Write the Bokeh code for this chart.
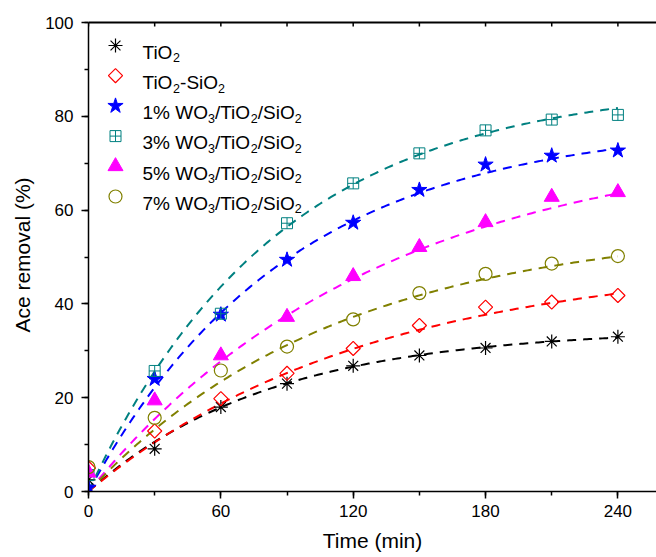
import numpy as np
from bokeh.plotting import figure
from bokeh.models import Range1d, SingleIntervalTicker, ColumnDataSource
from bokeh.core.properties import value
from bokeh.embed import file_html
from bokeh.resources import INLINE

# ---------------- data ----------------
time_min = [0, 30, 60, 90, 120, 150, 180, 210, 240]
tio2 = [2.5, 9.1, 18.0, 23.0, 26.8, 29.0, 30.6, 32.0, 33.0]
tio2_sio2 = [5.0, 12.9, 19.8, 25.2, 30.5, 35.4, 39.3, 40.4, 41.8]
wo3_1 = [0.8, 24.0, 37.7, 49.4, 57.3, 64.3, 69.7, 71.6, 72.7]
wo3_3 = [3.5, 25.7, 37.9, 57.2, 65.7, 72.1, 77.0, 79.3, 80.3]
wo3_5 = [4.0, 19.4, 29.0, 37.2, 45.9, 52.1, 57.4, 62.8, 63.8]
wo3_7 = [5.2, 15.7, 25.8, 30.9, 36.7, 42.3, 46.4, 48.6, 50.2]

# first-order kinetic fit curves y = A (1 - exp(-k t)), parameters
fit_A = [34.7, 49.7, 78.7, 87.2, 75.8, 57.0]
fit_k = [0.01214, 0.00789, 0.01103, 0.01158, 0.00760, 0.00882]
fit_t_end = 240

# legend labels as (text, is_subscript) pieces
legend_labels = [
    [("TiO", 0), ("2", 1)],
    [("TiO", 0), ("2", 1), ("-SiO", 0), ("2", 1)],
    [("1% WO", 0), ("3", 1), ("/TiO", 0), ("2", 1), ("/SiO", 0), ("2", 1)],
    [("3% WO", 0), ("3", 1), ("/TiO", 0), ("2", 1), ("/SiO", 0), ("2", 1)],
    [("5% WO", 0), ("3", 1), ("/TiO", 0), ("2", 1), ("/SiO", 0), ("2", 1)],
    [("7% WO", 0), ("3", 1), ("/TiO", 0), ("2", 1), ("/SiO", 0), ("2", 1)],
]
x_title = "Time (min)"
y_title = "Ace removal (%)"
y_axis_top = 100.0
top_tick_interval = 30

series = [tio2, tio2_sio2, wo3_1, wo3_3, wo3_5, wo3_7]
colors = ["#000000", "#FF0000", "#0000FF", "#008080", "#FF00FF", "#808000"]
styles = [
    dict(marker="asterisk", size=14, fill_color=None, line_width=1.2, angle=0.0),
    dict(marker="square", size=10, fill_color=None, line_width=1.2, angle=np.pi / 4),
    dict(marker="star", size=16, fill_color="fill", line_width=1.0, angle=0.0),
    dict(marker="square_cross", size=11, fill_color=None, line_width=1.0, angle=0.0),
    dict(marker="triangle", size=15, fill_color="fill", line_width=1.0, angle=0.0),
    dict(marker="circle", size=13, fill_color=None, line_width=1.2, angle=0.0),
]

# ---------------- layout ----------------
W, H = 656, 557
HEADROOM = 4                                    # px of frame above the 100 % line
ML, MR, MT, MB = 88, 0, 22 - HEADROOM, 66
FRAME_W = W - ML - MR
FRAME_H = H - MT - MB
X_END = 257.5                                   # visible end of the (cropped) time axis
Y_END = y_axis_top / (1 - HEADROOM / FRAME_H)
PX_X = FRAME_W / X_END
PX_Y = FRAME_H / Y_END
FONT = "Liberation Sans"

p = figure(width=W, height=H, x_range=Range1d(0, X_END), y_range=Range1d(0, Y_END),
           output_backend="svg", toolbar_location=None,
           min_border_left=ML, min_border_right=MR, min_border_top=MT, min_border_bottom=MB)
p.xgrid.visible = False
p.ygrid.visible = False
p.outline_line_color = None
p.background_fill_color = "white"
p.border_fill_color = "white"

def style_axis(ax):
    ax.axis_line_width = 1.5
    ax.major_tick_line_width = 1.5
    ax.minor_tick_line_width = 1.5
    ax.axis_line_color = "black"
    ax.major_tick_line_color = "black"
    ax.minor_tick_line_color = "black"
    ax.major_label_text_font = FONT
    ax.major_label_text_font_size = "17px"
    ax.major_label_text_color = "black"
    ax.axis_label_text_font = FONT
    ax.axis_label_text_font_size = "21px"
    ax.axis_label_text_font_style = "normal"
    ax.axis_label_text_color = "black"

xa = p.xaxis[0]
xa.ticker = SingleIntervalTicker(interval=60, num_minor_ticks=2)
style_axis(xa)
xa.major_tick_out = 7
xa.major_tick_in = 0
xa.minor_tick_out = 4
xa.minor_tick_in = 0
xa.major_label_standoff = 6
xa.axis_label = x_title
xa.axis_label_standoff = 9

ya = p.yaxis[0]
ya.ticker = SingleIntervalTicker(interval=20, num_minor_ticks=2)
style_axis(ya)
ya.bounds = (0, y_axis_top)
ya.major_tick_out = 7
ya.major_tick_in = 0
ya.minor_tick_out = 4
ya.minor_tick_in = 0
ya.major_label_standoff = 8
ya.axis_label = y_title
ya.axis_label_standoff = 8

# top line of the box at 100 % with small inward ticks
p.line(x=[0, X_END], y=[y_axis_top, y_axis_top], line_color="black", line_width=2)
top_ticks = list(range(0, int(X_END) + 1, top_tick_interval))
p.segment(x0=top_ticks, x1=top_ticks, y0=[y_axis_top] * len(top_ticks),
          y1=[y_axis_top - 4 / PX_Y] * len(top_ticks), line_color="black", line_width=1.5)

# ---------------- fit curves ----------------
t_fit = np.linspace(0, fit_t_end, 241)
for A, k, c in zip(fit_A, fit_k, colors):
    p.line(t_fit, A * (1 - np.exp(-k * t_fit)), line_color=c, line_width=2, line_dash="9 7")

# ---------------- markers ----------------
def draw_markers(xs, ys, c, st):
    fill = c if st["fill_color"] == "fill" else None
    p.scatter(xs, ys, marker=st["marker"], size=st["size"], line_color=c,
              fill_color=fill, line_width=st["line_width"], angle=st["angle"])

for ys, c, st in zip(series, colors, styles):
    draw_markers(time_min, ys, c, st)

# ---------------- legend (manual, with subscripts) ----------------
ARIAL_W = {"T": 611, "i": 222, "O": 778, "-": 333, "S": 667, "W": 944, "/": 278,
           "%": 889, " ": 278, "1": 556, "2": 556, "3": 556, "5": 556, "7": 556}
MAIN_FS = 19.0
SUB_FS = 12.5
LEG_MARK_PX = 27      # marker centre from frame left
LEG_TEXT_PX = 54      # text start from frame left
LEG_ROW0_PX = 23      # first row centre below the 100 % line
LEG_PITCH_PX = 30.2
BASE_DROP = 6.7       # main baseline below row centre
SUB_DROP = 5.6        # subscript baseline below main baseline

main = dict(x=[], y=[], text=[])
sub = dict(x=[], y=[], text=[])
for i, (parts, c, st) in enumerate(zip(legend_labels, colors, styles)):
    row_py = LEG_ROW0_PX + i * LEG_PITCH_PX
    draw_markers([LEG_MARK_PX / PX_X], [y_axis_top - row_py / PX_Y], c, st)
    px = LEG_TEXT_PX
    for txt, is_sub in parts:
        fs = SUB_FS if is_sub else MAIN_FS
        base_py = row_py + BASE_DROP + (SUB_DROP if is_sub else 0)
        d = sub if is_sub else main
        d["x"].append(px / PX_X)
        d["y"].append(y_axis_top - base_py / PX_Y)
        d["text"].append(txt)
        px += sum(ARIAL_W[ch] for ch in txt) / 1000.0 * fs

p.text(x="x", y="y", text="text", source=ColumnDataSource(main), text_font=value(FONT),
       text_font_size=f"{MAIN_FS}px", text_baseline="alphabetic", text_align="left",
       text_color="black")
p.text(x="x", y="y", text="text", source=ColumnDataSource(sub), text_font=value(FONT),
       text_font_size=f"{SUB_FS}px", text_baseline="alphabetic", text_align="left",
       text_color="black")

open("out.html", "w").write(file_html(p, INLINE))
